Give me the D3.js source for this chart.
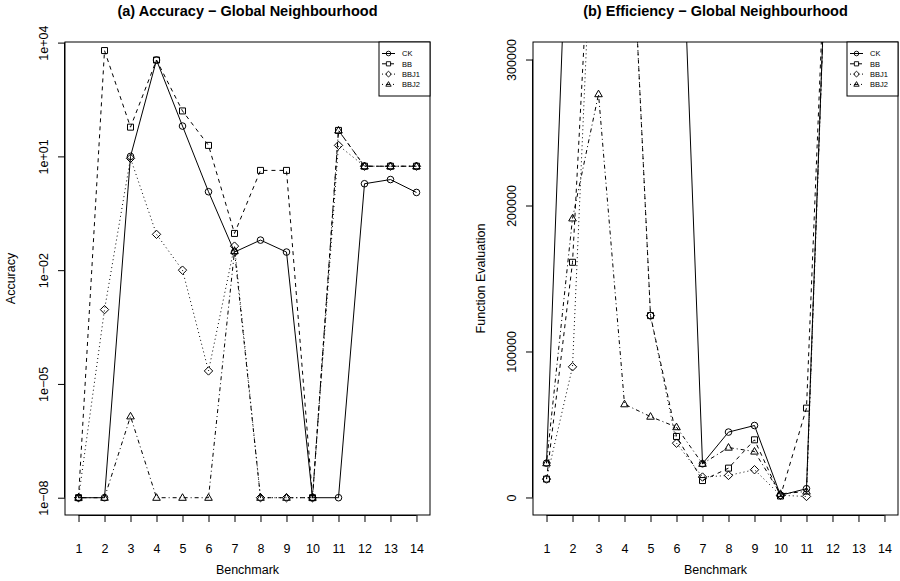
<!DOCTYPE html>
<html><head><meta charset="utf-8">
<script src="https://cdn.jsdelivr.net/npm/d3@7/dist/d3.min.js"></script>
<style>
body{margin:0;background:#fff}
text{font-family:"Liberation Sans",Arial,Helvetica,sans-serif;fill:#000}
</style>
</head><body>
<svg id="c" width="900" height="581"></svg>
<script>
// ---------- data ----------
const benchmarks = [1,2,3,4,5,6,7,8,9,10,11,12,13,14];
const seriesNames = ["CK","BB","BBJ1","BBJ2"];

// (a) accuracy
const accCK   = [1e-8, 1e-8, 10, 3470, 63, 1.17, 0.030, 0.062, 0.030, 1e-8, 1e-8, 1.9, 2.45, 1.12];
const accBB   = [1e-8, 6170, 59, 3470, 158, 19.5, 0.093, 4.27, 4.27, 1e-8, 48.4, 5.5, 5.5, 5.5];
const accBBJ1 = [1e-8, 9.1e-4, 8.9, 0.088, 0.010, 2.2e-5, 0.043, 1e-8, 1e-8, 1e-8, 19.5, 5.5, 5.5, 5.5];
const accBBJ2 = [1e-8, 1e-8, 1.4e-6, 1e-8, 1e-8, 1e-8, 0.032, 1e-8, 1e-8, 1e-8, 48.4, 5.5, 5.5, 5.5];

// (b) function evaluations
const evalCK   = [23500, 500000, 500000, 500000, 500000, 500000, 23100, 44800, 49300, 1500, 6000, 500000, 500000, 500000];
const evalBB   = [12600, 161100, 500000, 500000, 124600, 41800, 11600, 20100, 39500, 1000, 61200, 500000, 500000, 500000];
const evalBBJ1 = [12600, 89500, 500000, 500000, 124600, 37200, 14000, 15100, 19000, 1500, 700, 500000, 500000, 500000];
const evalBBJ2 = [23500, 191200, 276300, 63900, 55400, 48200, 23100, 34200, 31500, 2500, 4100, 500000, 500000, 500000];

const accTicks = [1e-8, 1e-5, 1e-2, 1e1, 1e4];
const accTickLabels = ["1e\u221208","1e\u221205","1e\u221202","1e+01","1e+04"];
const evalTicks = [0, 100000, 200000, 300000];
const evalTickLabels = ["0","100000","200000","300000"];

// ---------- styles ----------
const dashes = {CK:null, BB:"4,4", BBJ1:"1,3", BBJ2:"1,3,4,3"};
const shapes = {CK:"circle", BB:"square", BBJ1:"diamond", BBJ2:"triangle"};

function markerPath(shape, cx, cy, s){
  s = s || 1;
  if(shape==="circle"){ const r=3.3*s; return `M${cx-r},${cy}a${r},${r} 0 1,0 ${2*r},0a${r},${r} 0 1,0 ${-2*r},0Z`; }
  if(shape==="square"){ const h=3*s; return `M${cx-h},${cy-h}H${cx+h}V${cy+h}H${cx-h}Z`; }
  if(shape==="diamond"){ const h=4.2*s; return `M${cx},${cy-h}L${cx+h},${cy}L${cx},${cy+h}L${cx-h},${cy}Z`; }
  const t=4*s, b=2.6*s, w=3.8*s;
  return `M${cx},${cy-t}L${cx+w},${cy+b}L${cx-w},${cy+b}Z`;
}

const svg = d3.select("#c");

function panel(cfg){
  const g = svg.append("g");
  const x = d3.scaleLinear().domain([0.48, 14.52]).range([cfg.left, cfg.right]);
  const y = cfg.yScale;
  const top = 42, bottom = 515;
  const clipId = "clip" + cfg.id;
  svg.append("clipPath").attr("id", clipId).append("rect")
    .attr("x", cfg.left).attr("y", top).attr("width", cfg.right-cfg.left).attr("height", bottom-top);

  // title
  g.append("text").attr("x", (cfg.left+cfg.right)/2).attr("y", 15.5)
    .attr("text-anchor","middle").attr("font-size","14.5px").attr("font-weight","bold").text(cfg.title);

  // x axis
  const xa = g.append("g").attr("transform",`translate(0,${bottom})`)
    .call(d3.axisBottom(x).tickValues(benchmarks).tickSize(7).tickPadding(18).tickFormat(d3.format("d")));
  xa.select(".domain").attr("d", `M${x(1)},0.5H${x(14)}`).attr("stroke","#000");
  xa.selectAll(".tick line").attr("stroke","#000");
  xa.selectAll(".tick text").attr("font-size","12.5px").attr("font-family",null).attr("fill","#000").attr("dy",null).attr("y",37.5);
  g.append("text").attr("x",(cfg.left+cfg.right)/2).attr("y",574).attr("text-anchor","middle")
    .attr("font-size","12.5px").text("Benchmark");

  // y axis
  const ya = g.append("g").attr("transform",`translate(${cfg.left},0)`)
    .call(d3.axisLeft(y).tickValues(cfg.yTicks).tickSize(7).tickFormat((d,i)=>cfg.yTickLabels[i]));
  ya.select(".domain").attr("d", `M-0.5,${y(cfg.yTicks[0])}V${y(cfg.yTicks[cfg.yTicks.length-1])}`).attr("stroke","#000");
  ya.selectAll(".tick line").attr("stroke","#000");
  ya.selectAll(".tick text").attr("font-size","12.5px").attr("font-family",null).attr("fill","#000")
    .attr("x",null).attr("dy",null).attr("text-anchor","middle")
    .attr("transform", `translate(${cfg.yLabelX - cfg.left},0) rotate(-90)`);
  g.append("text").attr("transform",`translate(${cfg.yTitleX},${(top+bottom)/2}) rotate(-90)`)
    .attr("text-anchor","middle").attr("font-size","12.5px").text(cfg.yTitle);

  // series
  const data = g.append("g").attr("clip-path",`url(#${clipId})`);
  const line = d3.line().x((d,i)=>x(benchmarks[i])).y(d=>y(d));
  seriesNames.forEach((name,k)=>{
    const vals = cfg.series[k];
    data.append("path").attr("d", line(vals)).attr("fill","none").attr("stroke","#000")
      .attr("stroke-width",1).attr("stroke-dasharray", dashes[name]);
    data.selectAll(null).data(vals).enter().append("path")
      .attr("d",(d,i)=>markerPath(shapes[name], x(benchmarks[i]), y(d)))
      .attr("fill","none").attr("stroke","#000").attr("stroke-width",1);
  });

  // box
  g.append("rect").attr("x",cfg.left).attr("y",top).attr("width",cfg.right-cfg.left).attr("height",bottom-top)
    .attr("fill","none").attr("stroke","#000").attr("stroke-width",1);

  // legend
  const lw = 51, lh = 54, lx = cfg.right - lw;
  const lg = g.append("g");
  lg.append("rect").attr("x",lx).attr("y",top).attr("width",lw).attr("height",lh)
    .attr("fill","#fff").attr("stroke","#000").attr("stroke-width",1);
  seriesNames.forEach((name,k)=>{
    const yy = 53.5 + k*10.3;
    lg.append("line").attr("x1",lx+3).attr("x2",lx+16).attr("y1",yy).attr("y2",yy)
      .attr("stroke","#000").attr("stroke-width",1).attr("stroke-dasharray",dashes[name]);
    lg.append("path").attr("d",markerPath(shapes[name], lx+9.5, yy, 0.7))
      .attr("fill","none").attr("stroke","#000").attr("stroke-width",0.9);
    lg.append("text").attr("x",lx+23).attr("y",yy+2.7).attr("font-size","7.5px").text(name);
  });
}

panel({
  id:"a", left:65, right:430,
  title:"(a) Accuracy \u2212 Global Neighbourhood",
  yScale: d3.scaleLog().domain([Math.pow(10,-8.456), Math.pow(10,4.016)]).range([515,42]),
  yTicks: accTicks, yTickLabels: accTickLabels,
  yLabelX: 47.5, yTitleX: 15, yTitle:"Accuracy",
  series:[accCK, accBB, accBBJ1, accBBJ2]
});

panel({
  id:"b", left:533, right:898,
  title:"(b) Efficiency \u2212 Global Neighbourhood",
  yScale: d3.scaleLinear().domain([-12000, 312000]).range([515,42]),
  yTicks: evalTicks, yTickLabels: evalTickLabels,
  yLabelX: 515.5, yTitleX: 485, yTitle:"Function Evaluation",
  series:[evalCK, evalBB, evalBBJ1, evalBBJ2]
});
</script>
</body></html>
